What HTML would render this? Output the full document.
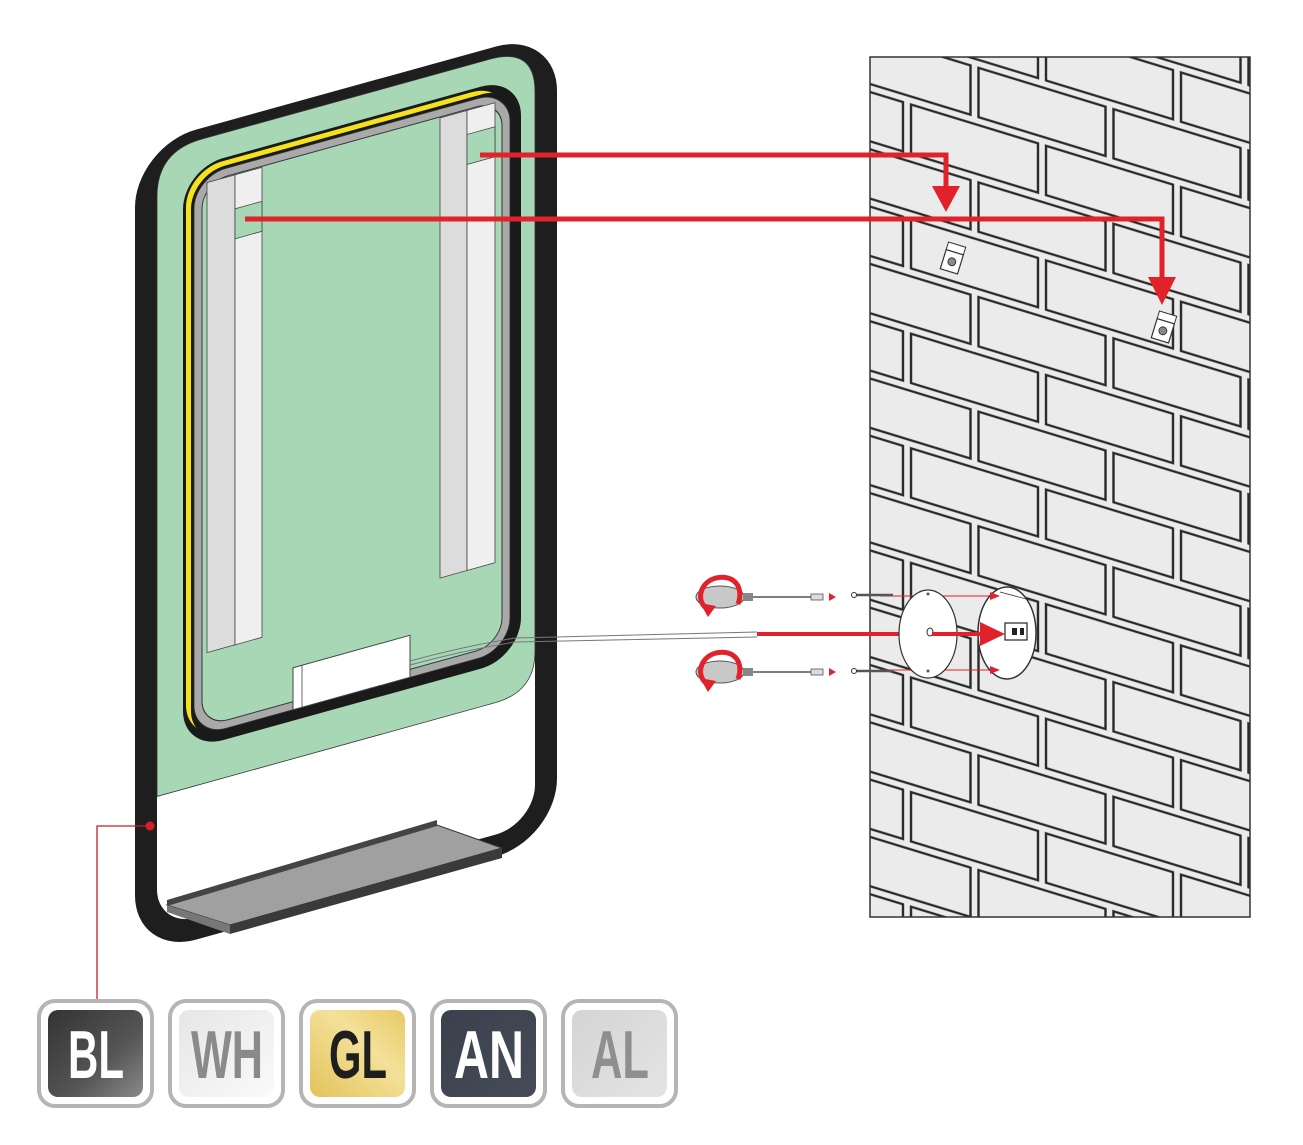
<!DOCTYPE html>
<html><head><meta charset="utf-8"><style>
html,body{margin:0;padding:0;background:#fff;}
svg{display:block;}
</style></head><body>
<svg width="1303" height="1145" viewBox="0 0 1303 1145" xmlns="http://www.w3.org/2000/svg">
<defs>
  <pattern id="brick" patternUnits="userSpaceOnUse" x="97" y="-178" width="135" height="114.6" patternTransform="skewY(17)">
    <rect x="0" y="0" width="135" height="114.6" fill="#ebebeb"/>
    <rect x="4" y="4" width="127" height="49.3" fill="none" stroke="#2a2a2a" stroke-width="2.4"/>
    <rect x="-63.5" y="61.3" width="127" height="49.3" fill="none" stroke="#2a2a2a" stroke-width="2.4"/>
    <rect x="71.5" y="61.3" width="127" height="49.3" fill="none" stroke="#2a2a2a" stroke-width="2.4"/>
  </pattern>
  <linearGradient id="gBL" x1="0" y1="0" x2="1" y2="1"><stop offset="0" stop-color="#333"/><stop offset="0.6" stop-color="#555"/><stop offset="1" stop-color="#8a8a8a"/></linearGradient>
  <linearGradient id="gWH" x1="0" y1="0" x2="1" y2="1"><stop offset="0" stop-color="#e6e6e6"/><stop offset="1" stop-color="#fafafa"/></linearGradient>
  <linearGradient id="gGL" x1="0" y1="1" x2="1" y2="0"><stop offset="0" stop-color="#e4c25a"/><stop offset="0.6" stop-color="#f3e19a"/><stop offset="1" stop-color="#e8c865"/></linearGradient>
  <linearGradient id="gAN" x1="0" y1="0" x2="1" y2="1"><stop offset="0" stop-color="#3a414c"/><stop offset="1" stop-color="#454c57"/></linearGradient>
  <linearGradient id="gAL" x1="0" y1="0" x2="1" y2="1"><stop offset="0" stop-color="#d4d4d4"/><stop offset="1" stop-color="#e4e4e4"/></linearGradient>
</defs>

<!-- WALL -->
<rect x="870" y="57" width="380" height="860" fill="url(#brick)" stroke="#333" stroke-width="1.5"/>

<!-- MIRROR (skewed) -->
<g transform="skewY(-15.5)">
  <rect x="146" y="195" width="400" height="788" rx="50" fill="#fff" stroke="#1e1e1e" stroke-width="22"/>
  <path d="M157 240 Q157 195 202 195 L490 195 Q535 195 535 240 L535 800 Q535 840 495 840 L157 840 Z" fill="#a7d7b5" stroke="#333" stroke-width="0.8"/>
  <rect x="183" y="220" width="338" height="582" rx="40" fill="#1a1a1a"/>
  <rect x="186" y="223" width="322" height="570" rx="36" fill="#f3e21c"/>
  <rect x="191" y="228" width="326" height="570" rx="34" fill="#1a1a1a"/>
  <rect x="194" y="231" width="316" height="560" rx="32" fill="#a9a9a9" stroke="#333" stroke-width="0.8"/>
  <rect x="202" y="239" width="300" height="544" rx="26" fill="#a7d7b5" stroke="#333" stroke-width="1"/>
  <!-- left strip -->
  <rect x="207" y="240" width="28" height="470" fill="#dcdcdc" stroke="#444" stroke-width="0.8"/>
  <rect x="235" y="240" width="27" height="470" fill="#efefef" stroke="#444" stroke-width="0.8"/>
  <rect x="235" y="274" width="27" height="30" fill="#a7d7b5" stroke="#444" stroke-width="0.8"/>
  <!-- right strip -->
  <rect x="440" y="240" width="27" height="460" fill="#dcdcdc" stroke="#444" stroke-width="0.8"/>
  <rect x="467" y="240" width="28" height="460" fill="#efefef" stroke="#444" stroke-width="0.8"/>
  <rect x="467" y="264" width="28" height="30" fill="#a7d7b5" stroke="#444" stroke-width="0.8"/>
  <!-- driver box -->
  <rect x="293" y="749" width="117" height="42" fill="#fff" stroke="#444" stroke-width="1"/>
  <line x1="302" y1="749" x2="302" y2="791" stroke="#444" stroke-width="0.8"/>
</g>
<!-- cable -->
<path d="M410 661 C450 650 490 642 515 638 L757 632" fill="none" stroke="#777" stroke-width="1"/>
<path d="M410 665 C450 654 490 646 515 642 L757 637" fill="none" stroke="#777" stroke-width="1"/>

<!-- SHELF -->
<polygon points="167,905 437,825 502,848 230,925" fill="#a0a0a0" stroke="#333" stroke-width="1"/>
<polygon points="167,900 437,820 437,826 167,906" fill="#444"/>
<polygon points="230,925 502,848 502,858 230,934" fill="#3a3a3a"/>
<polygon points="167,905 230,925 230,934 167,912" fill="#777"/>

<!-- callout -->
<polyline points="150,826 97,826 97,1000" fill="none" stroke="#c0202a" stroke-width="1.3"/>
<circle cx="150" cy="826" r="4.5" fill="#d71f2a"/>

<!-- wall brackets -->
<g transform="translate(953,258) rotate(17)">
  <rect x="-9" y="-14" width="18" height="8" fill="#fff" stroke="#333" stroke-width="1"/>
  <rect x="-9" y="-6" width="18" height="20" fill="#fff" stroke="#333" stroke-width="1.2"/>
  <circle cx="0" cy="4" r="4" fill="#888" stroke="#222" stroke-width="0.8"/>
</g>
<g transform="translate(1164,327) rotate(17)">
  <rect x="-9" y="-14" width="18" height="8" fill="#fff" stroke="#333" stroke-width="1"/>
  <rect x="-9" y="-6" width="18" height="20" fill="#fff" stroke="#333" stroke-width="1.2"/>
  <circle cx="0" cy="4" r="4" fill="#888" stroke="#222" stroke-width="0.8"/>
</g>

<!-- RED ARROWS -->
<g fill="none" stroke="#e1222b" stroke-width="5">
  <polyline points="480,155 946,155 946,190"/>
  <polyline points="245,219 1162,219 1162,280"/>
</g>
<polygon points="932,186 960,186 946,212" fill="#e1222b"/>
<polygon points="1148,277 1176,277 1162,305" fill="#e1222b"/>

<!-- bottom mount assembly -->
<line x1="757" y1="634" x2="985" y2="634" stroke="#e1222b" stroke-width="4"/>
<line x1="880" y1="596" x2="996" y2="596" stroke="#e1222b" stroke-width="1"/>
<line x1="880" y1="670" x2="996" y2="670" stroke="#e1222b" stroke-width="1"/>
<ellipse cx="1007" cy="633" rx="29" ry="46" fill="#fff" stroke="#333" stroke-width="1.5"/>
<line x1="1000" y1="592" x2="1030" y2="600" stroke="#333" stroke-width="0.8"/>
<rect x="1005" y="623" width="22" height="17" fill="#fff" stroke="#222" stroke-width="1.2"/>
<rect x="1012" y="628" width="5" height="7" fill="#222"/>
<rect x="1020" y="628" width="4" height="7" fill="#222"/>
<ellipse cx="928" cy="634" rx="29" ry="44" fill="#fff" stroke="#333" stroke-width="1.2"/>
<ellipse cx="930" cy="632" rx="3" ry="4" fill="#fff" stroke="#333" stroke-width="1"/>
<circle cx="928" cy="594" r="1.5" fill="#555"/>
<circle cx="928" cy="671" r="1.5" fill="#555"/>
<line x1="932" y1="634" x2="985" y2="634" stroke="#e1222b" stroke-width="4"/>
<polygon points="980,622 1005,634 980,646" fill="#e1222b"/>
<polygon points="990,592 1000,596 990,600" fill="#e1222b"/>
<polygon points="990,666 1000,670 990,674" fill="#e1222b"/>

<!-- screws -->
<g stroke="#555" stroke-width="1">
  <line x1="855" y1="595" x2="893" y2="595" stroke-width="2.5"/>
  <line x1="855" y1="671" x2="893" y2="671" stroke-width="2.5"/>
</g>
<circle cx="854" cy="595" r="2.5" fill="#fff" stroke="#333"/>
<circle cx="854" cy="671" r="2.5" fill="#fff" stroke="#333"/>

<!-- screwdrivers -->
<g>
  <ellipse cx="720" cy="597" rx="24" ry="11" fill="#c8c8c8" stroke="#555" stroke-width="1"/>
  <rect x="743" y="593" width="10" height="8" fill="#888"/>
  <line x1="753" y1="597" x2="812" y2="597" stroke="#555" stroke-width="1.5"/>
  <rect x="811" y="594" width="12" height="6" fill="#ddd" stroke="#555" stroke-width="0.8"/>
  <polygon points="829,593 836,597 829,601" fill="#e1222b"/>
  <path d="M706 608 C696 600 700 582 716 578 C735 574 744 588 738 604" fill="none" stroke="#e1222b" stroke-width="5"/>
  <polygon points="700,603 716,606 708,617" fill="#e1222b"/>
</g>
<g>
  <ellipse cx="720" cy="672" rx="24" ry="11" fill="#c8c8c8" stroke="#555" stroke-width="1"/>
  <rect x="743" y="668" width="10" height="8" fill="#888"/>
  <line x1="753" y1="672" x2="812" y2="672" stroke="#555" stroke-width="1.5"/>
  <rect x="811" y="669" width="12" height="6" fill="#ddd" stroke="#555" stroke-width="0.8"/>
  <polygon points="829,668 836,672 829,676" fill="#e1222b"/>
  <path d="M706 683 C696 675 700 657 716 653 C735 649 744 663 738 679" fill="none" stroke="#e1222b" stroke-width="5"/>
  <polygon points="700,678 716,681 708,692" fill="#e1222b"/>
</g>

<!-- BADGES -->
<g font-family="'Liberation Sans Narrow','Liberation Sans',sans-serif" font-weight="bold" font-size="68" text-anchor="middle">
  <rect x="39" y="1001" width="113" height="105" rx="16" fill="#fff" stroke="#b5b5b5" stroke-width="4"/>
  <rect x="48" y="1010" width="95" height="87" rx="10" fill="url(#gBL)"/>
  <text x="96" y="1078" fill="#fff" textLength="56" lengthAdjust="spacingAndGlyphs">BL</text>

  <rect x="170" y="1001" width="113" height="105" rx="16" fill="#fff" stroke="#b5b5b5" stroke-width="4"/>
  <rect x="179" y="1010" width="95" height="87" rx="10" fill="url(#gWH)"/>
  <text x="227" y="1078" fill="#8a8a8a" textLength="72" lengthAdjust="spacingAndGlyphs">WH</text>

  <rect x="301" y="1001" width="113" height="105" rx="16" fill="#fff" stroke="#b5b5b5" stroke-width="4"/>
  <rect x="310" y="1010" width="95" height="87" rx="10" fill="url(#gGL)"/>
  <text x="358" y="1078" fill="#1e1e1e" textLength="58" lengthAdjust="spacingAndGlyphs">GL</text>

  <rect x="432" y="1001" width="113" height="105" rx="16" fill="#fff" stroke="#b5b5b5" stroke-width="4"/>
  <rect x="441" y="1010" width="95" height="87" rx="10" fill="url(#gAN)"/>
  <text x="489" y="1078" fill="#fff" textLength="70" lengthAdjust="spacingAndGlyphs">AN</text>

  <rect x="563" y="1001" width="113" height="105" rx="16" fill="#fff" stroke="#b5b5b5" stroke-width="4"/>
  <rect x="572" y="1010" width="95" height="87" rx="10" fill="url(#gAL)"/>
  <text x="620" y="1078" fill="#8f8f8f" textLength="58" lengthAdjust="spacingAndGlyphs">AL</text>
</g>
</svg>
</body></html>
